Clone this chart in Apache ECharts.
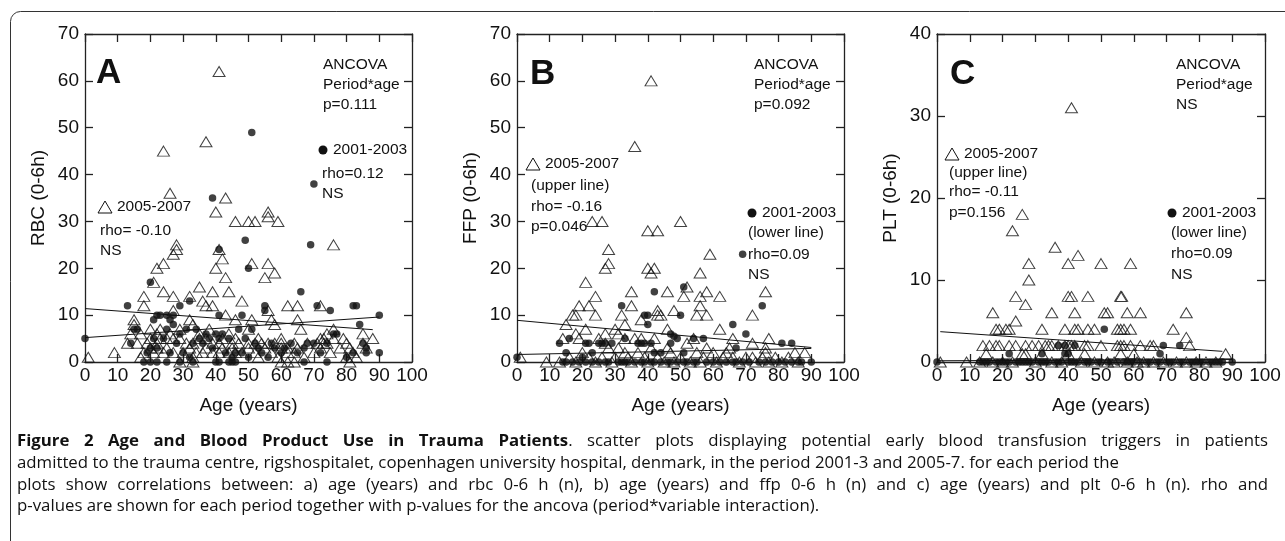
<!DOCTYPE html>
<html><head><meta charset="utf-8">
<script src="https://cdn.jsdelivr.net/npm/echarts@6/dist/echarts.min.js"></script>
<style>html,body{margin:0;padding:0;background:#fff;}#c{width:1285px;height:541px;}</style>
</head><body><div id="c"></div>
<script>
// ---------------- DATA ----------------
const panelLetters = ['A', 'B', 'C'];
const yNames = ['RBC (0-6h)', 'FFP (0-6h)', 'PLT (0-6h)'];
const xName = 'Age (years)';
const yMax = [70, 70, 40];
const xMax = 100;
const tickStep = 10;

// Panel A (RBC) – 2005-2007 (open triangles) and 2001-2003 (dots), [age, units]
const tri2005A = [
 [41,62],[24,45],[37,47],[26,36],[43,35],[40,32],[56,32],[56,31],[46,30],[50,30],[52,30],[59,30],
 [28,25],[28,24],[27,23],[76,25],[41,24],[42,22],[24,21],[22,20],[40,20],[51,21],[56,21],[58,19],[55,18],[43,18],[21,17],
 [35,16],[24,15],[39,15],[44,15],[18,14],[27,14],[32,14],[36,13],[48,13],[18,12],[37,12],[39,12],[62,12],[65,12],[72,12],[27,11],[56,11],[43,10],
 [15,9],[32,9],[46,9],[51,9],[57,9],[65,9],[15,8],[33,8],[58,8],[14,6],[23,7],[20,7],[29,7],[50,7],[66,7],[76,7],[85,6],[88,5],[17,6],[22,6],[26,6],[35,6],[38,7],[44,6],[60,5],[72,5],[74,6],
 [13,4],[16,4],[19,4],[20,5],[22,4],[23,5],[25,5],[27,5],[29,5],[31,4],[33,4],[35,5],[37,5],[39,4],[41,4],[42,5],[45,4],[46,5],[47,4],[50,4],[52,4],[53,5],[54,4],[56,4],[58,4],[60,4],[62,3],[64,4],[68,4],[71,4],[73,5],[74,4],[76,5],[79,5],[80,4],[85,4],
 [9,2],[17,1],[18,2],[20,3],[21,2],[22,3],[24,2],[25,3],[27,2],[30,2],[32,3],[33,1],[34,2],[36,2],[37,3],[39,2],[41,2],[42,3],[44,2],[45,3],[46,2],[48,2],[50,3],[52,2],[53,1],[55,3],[57,2],[59,1],[60,3],[62,2],[64,2],[65,3],[67,1],[70,2],[72,3],[73,4],[75,2],[78,3],[80,1],[81,3],[82,2],[83,1],[86,3],
 [1,1],[29,0],[33,0],[60,0],[62,0],[64,0],[81,0]
];
const dot2001A = [
 [51,49],[70,38],[39,35],[49,26],[69,25],[41,24],[50,20],[20,17],[66,15],[13,12],[29,12],[32,13],[55,12],[55,11],[71,12],[75,11],[82,12],[83,12],[90,10],[22,10],[23,10],[25,10],[27,10],[41,10],[48,10],[21,9],[26,9],[84,8],
 [0,5],[14,4],[15,7],[16,7],[19,2],[20,3],[21,5],[22,3],[24,5],[25,7],[26,2],[27,8],[28,4],[29,6],[30,2],[31,7],[32,1],[33,4],[34,7],[35,5],[36,4],[37,6],[38,5],[39,3],[40,6],[41,5],[42,6],[43,2],[44,5],[45,1],[46,2],[47,7],[48,2],[49,5],[50,1],[51,7],[52,4],[53,3],[54,2],[56,1],[57,4],[58,3],[60,2],[61,3],[63,4],[65,2],[67,3],[68,4],[70,4],[72,2],[74,4],[76,6],[77,6],[80,1],[82,2],[85,4],[86,3],[86,2],[90,2],
 [18,0],[20,0],[22,0],[25,0],[29,0],[33,0],[40,0],[41,0],[44,0],[45,0],[46,0],[67,0],[74,0]
];
const fit2005A = [[0,11.4],[88,6.9]];
const fit2001A = [[0,5.2],[90,9.6]];

// Panel B (FFP)
const tri2005B = [
 [41,60],[36,46],[23,30],[26,30],[50,30],[40,28],[43,28],[28,24],[28,21],[27,20],[59,23],[40,20],[42,20],[41,19],[56,19],[21,17],
 [35,15],[46,15],[52,16],[58,15],[76,15],[62,14],[51,14],[56,14],[24,14],[19,12],[22,12],[56,12],[35,12],[17,10],[18,10],[24,10],[32,10],[43,10],[44,10],[55,10],[58,10],[72,10],[43,11],[48,11],
 [38,9],[15,8],[33,8],[21,7],[46,7],[62,7],[30,7],[18,6],[27,6],[36,5],[38,5],[42,5],[54,5],[66,5],[77,5],[76,3],[72,4],[14,5],[19,5],[25,5],[33,5],[31,6],[27,4],[31,3],[33,2],[41,3],[46,3],[52,4],[58,3],[64,2],[76,2],[85,2],[88,2],
 [1,1],[9,0],[13,0],[16,1],[18,0],[20,2],[22,1],[24,0],[26,1],[28,3],[29,0],[30,1],[34,1],[35,0],[37,2],[39,1],[40,0],[43,1],[45,0],[47,2],[48,0],[50,1],[53,0],[55,2],[56,0],[57,1],[60,2],[61,0],[63,1],[65,3],[66,1],[68,0],[70,1],[72,1],[73,0],[75,1],[77,0],[79,1],[81,0],[83,1],[86,0]
];
const dot2001B = [
 [42,15],[51,16],[50,10],[32,12],[39,10],[40,10],[40,8],[66,8],[70,6],[75,12],[69,23],[47,6],[48,5.5],[49,5],[54,5],[57,5],[67,3],[81,4],[84,4],[90,0],[0,1],
 [13,4],[15,2],[16,5],[21,4],[22,4],[25,4],[26,4],[27,4],[29,4],[33,5],[37,4],[41,4],[42,2],[47,4],[51,2],[23,2],[20,1],[38,4],[39,4],[44,2],
 [14,0],[15,0],[17,0],[19,0],[21,0],[23,0],[25,0],[27,0],[28,0],[31,0],[32,0],[33,0],[34,0],[36,0],[38,0],[39,0],[41,0],[42,0],[44,0],[46,0],[47,0],[49,0],[51,0],[52,0],[54,0],[55,0],[58,0],[60,0],[62,0],[64,0],[66,0],[67,0],[69,0],[71,0],[74,0],[76,0],[78,0],[80,0],[82,0],[84,0],[86,0],[87,0]
];
const fit2005B = [[0,8.9],[90,3.1]];
const fit2001B = [[0,1.6],[90,2.9]];

// Panel C (PLT)
const tri2005C = [
 [41,31],[26,18],[23,16],[36,14],[28,12],[40,12],[43,13],[50,12],[59,12],[28,10],[24,8],[27,7],[40,8],[41,8],[46,8],[56,8],[56.3,8],
 [17,6],[35,6],[42,6],[51,6],[52,6],[58,6],[62,6],[76,6],[24,5],[76,3],
 [18,4],[19,4],[21,4],[22,4],[32,4],[39,4],[42,4],[43,4],[46,4],[48,4],[55,4],[56,4],[57,4],[59,4],[72,4],
 [14,2],[16,2],[18,2],[19,2],[22,2],[24,2],[27,2],[29,2],[31,2],[33,2],[34,2],[35,2],[37,2],[39,2],[40,2],[41,2],[42,2],[45,2],[46,2],[50,2],[55,2],[56,2],[57,2],[59,2],[62,2],[65,2],[66,2],[77,2],
 [15,1],[26,1],[27,1],[32,1],[40,1],[45,1],[56,1],[60,1],[88,1],
 [1,0],[9,0],[13,0],[17,0],[20,0],[23,0],[30,0],[35,0],[38,0],[44,0],[48,0],[52,0],[54,0],[58,0],[61,0],[63,0],[66,0],[69,0],[73,0],[76,0],[79,0],[82,0],[85,0]
];
const dot2001C = [
 [51,4],[37,2],[39,2],[42,2],[69,2],[74,2],[22,1],[32,1],[39,1],[40,1],[68,1],[0,0],[90,0],
 [13,0],[14,0],[15,0],[16,0],[18,0],[19,0],[20,0],[21,0],[22,0],[24,0],[25,0],[26,0],[27,0],[28,0],[29,0],[31,0],[32,0],[33,0],[34,0],[36,0],[37,0],[38,0],[40,0],[41,0],[42,0],[43,0],[45,0],[46,0],[47,0],[49,0],[50,0],[52,0],[53,0],[55,0],[57,0],[58,0],[59,0],[60,0],[62,0],[64,0],[65,0],[67,0],[68,0],[70,0],[71,0],[72,0],[74,0],[75,0],[77,0],[78,0],[79,0],[80,0],[81,0],[83,0],[84,0],[85,0],[86,0],[87,0]
];
const fit2005C = [[1,3.7],[87,1.3]];
const fit2001C = [[0,0.15],[90,0.3]];

// Annotation texts
const ancovaTexts = [['ANCOVA','Period*age','p=0.111'],['ANCOVA','Period*age','p=0.092'],['ANCOVA','Period*age','NS']];
const label2005 = '2005-2007';
const label2001 = '2001-2003';
const stats2005 = [['rho= -0.10','NS'],['(upper line)','rho= -0.16','p=0.046'],['(upper line)','rho= -0.11','p=0.156']];
const stats2001 = [['rho=0.12','NS'],['(lower line)','rho=0.09','NS'],['(lower line)','rho=0.09','NS']];

// Caption
const captionBold = 'Figure 2 Age and Blood Product Use in Trauma Patients';
const captionLines = [
 '. scatter plots displaying potential early blood transfusion triggers in patients',
 'admitted to the trauma centre, rigshospitalet, copenhagen university hospital, denmark, in the period 2001-3 and 2005-7. for each period the',
 'plots show correlations between: a) age (years) and rbc 0-6 h (n), b) age (years) and ffp 0-6 h (n) and c) age (years) and plt 0-6 h (n). rho and',
 'p-values are shown for each period together with p-values for the ancova (period*variable interaction).'
];

// ---------------- LAYOUT ----------------
const FONT = '"Liberation Sans", Arial, sans-serif';
const CAPFONT = '"Open Sans", "Noto Sans", sans-serif';
const INK = '#111';
const grids = [
 {left:85, top:34, width:327, height:328},
 {left:517, top:34, width:327, height:328},
 {left:937, top:34, width:328, height:328}
];
const axLine = {color:'#222', width:1.3};

const xAxes = [], yAxes = [], series = [];
const triSets = [tri2005A, tri2005B, tri2005C];
const dotSets = [dot2001A, dot2001B, dot2001C];
const fitUp = [fit2005A, fit2005B, fit2005C];
const fitLo = [fit2001A, fit2001B, fit2001C];

grids.forEach((g, i) => {
  xAxes.push({gridIndex:i, type:'value', min:0, max:xMax, interval:tickStep, position:'bottom',
    name:xName, nameLocation:'middle', nameGap:34,
    nameTextStyle:{fontSize:19, fontFamily:FONT, color:INK},
    axisLine:{show:true, onZero:false, lineStyle:axLine},
    axisTick:{show:true, inside:true, length:8, lineStyle:axLine},
    axisLabel:{fontSize:19, fontFamily:FONT, color:INK, margin:4},
    splitLine:{show:false}});
  xAxes.push({gridIndex:i, type:'value', min:0, max:xMax, interval:tickStep, position:'top',
    axisLine:{show:true, onZero:false, lineStyle:axLine},
    axisTick:{show:true, inside:true, length:8, lineStyle:axLine},
    axisLabel:{show:false}, splitLine:{show:false}});
  yAxes.push({gridIndex:i, type:'value', min:0, max:yMax[i], interval:tickStep, position:'left',
    name:yNames[i], nameLocation:'middle', nameGap:37,
    nameTextStyle:{fontSize:19, fontFamily:FONT, color:INK},
    axisLine:{show:true, onZero:false, lineStyle:axLine},
    axisTick:{show:true, inside:true, length:8, lineStyle:axLine},
    axisLabel:{fontSize:19, fontFamily:FONT, color:INK, margin:6},
    splitLine:{show:false}});
  yAxes.push({gridIndex:i, type:'value', min:0, max:yMax[i], interval:tickStep, position:'right',
    axisLine:{show:true, onZero:false, lineStyle:axLine},
    axisTick:{show:true, inside:true, length:8, lineStyle:axLine},
    axisLabel:{show:false}, splitLine:{show:false}});

  const xi = 2*i, yi = 2*i;
  series.push({type:'scatter', xAxisIndex:xi, yAxisIndex:yi, data:dotSets[i], symbol:'circle', symbolSize:7.5,
    itemStyle:{color:INK}, silent:true, z:3});
  series.push({type:'scatter', xAxisIndex:xi, yAxisIndex:yi, data:triSets[i], symbol:'triangle', symbolSize:[12,10],
    itemStyle:{color:'rgba(0,0,0,0)', borderColor:INK, borderWidth:1}, silent:true, z:4});
  [fitUp[i], fitLo[i]].forEach(d => series.push({type:'line', xAxisIndex:xi, yAxisIndex:yi, data:d,
    symbol:'none', lineStyle:{color:INK, width:1}, silent:true, z:5, animation:false}));
});

// graphic annotations
const graphic = [];
graphic.push({type:'rect', shape:{x:10.5, y:11.5, width:1400, height:700, r:10}, style:{fill:'none', stroke:'#333', lineWidth:1}, silent:true, z:-10});
function txt(x, y, s, size, bold, fam) {
  graphic.push({type:'text', silent:true, style:{x:x, y:y, text:s,
    font:(bold?'bold ':'') + size + 'px ' + (fam||FONT), fill:INK,
    align:'left', verticalAlign:'middle', textAlign:'left', textVerticalAlign:'middle'}});
}
function tri(cx, cy) {
  graphic.push({type:'polygon', silent:true, shape:{points:[[cx-7,cy+6],[cx+7,cy+6],[cx,cy-6]]}, style:{fill:'none', stroke:INK, lineWidth:1}});
}
function dot(cx, cy) {
  graphic.push({type:'circle', silent:true, shape:{cx:cx, cy:cy, r:4.5}, style:{fill:INK}});
}
const AS = 15.5;
const letterPos = [[96,73],[530,74],[950,74]];
panelLetters.forEach((L, i) => txt(letterPos[i][0], letterPos[i][1], L, 35, true));
const ancX = [323, 754, 1176];
ancovaTexts.forEach((lines, i) => lines.forEach((s, k) => txt(ancX[i], 65 + 20*k, s, AS)));
const leg05 = [ {tx:105, ty:207, sx:100, sy:[231,251]}, {tx:533, ty:164, sx:531, sy:[186,207,227]}, {tx:952, ty:154, sx:949, sy:[173,192,213]} ];
leg05.forEach((p, i) => { tri(p.tx, p.ty); txt(p.tx + 12, p.ty, label2005, AS); stats2005[i].forEach((s, k) => txt(p.sx, p.sy[k], s, AS)); });
const leg01 = [ {dx:323, dy:150, sx:322, sy:[174,194]}, {dx:752, dy:213, sx:748, sy:[233,255,275]}, {dx:1172, dy:213, sx:1171, sy:[233,254,275]} ];
leg01.forEach((p, i) => { dot(p.dx, p.dy); txt(p.dx + 10, p.dy, label2001, AS); stats2001[i].forEach((s, k) => txt(p.sx, p.sy[k], s, AS)); });

// caption with justified lines
const cv = document.createElement('canvas').getContext('2d');
function meas(s, size, bold) { cv.font = (bold?'bold ':'') + size + 'px ' + CAPFONT; return cv.measureText(s).width; }
const capLeft = 17, capRight = 1268;
// font size chosen so the (unjustified) second line ends near x = 1120
const capSize = 14 * (1120 - capLeft) / meas(captionLines[1], 14, false);
const capY = [441, 463, 485, 506];
function placeTokens(tokens, y, justify) {
  const widths = tokens.map(t => t.reduce((a, sg) => a + meas(sg[0], capSize, sg[1]), 0));
  const sum = widths.reduce((a, b) => a + b, 0);
  const spaceW = meas(' ', capSize, false);
  const gap = justify ? (capRight - capLeft - sum) / (tokens.length - 1) : spaceW;
  let x = capLeft;
  tokens.forEach((t, k) => {
    let xx = x;
    t.forEach(sg => { txt(xx, y, sg[0], capSize.toFixed(2), sg[1], CAPFONT); xx += meas(sg[0], capSize, sg[1]); });
    x += widths[k] + gap;
  });
}
const t1 = captionBold.split(' ').map(w => [[w, true]]);
const rest1 = captionLines[0].split(' ');
t1[t1.length - 1].push([rest1[0], false]);
rest1.slice(1).forEach(w => t1.push([[w, false]]));
placeTokens(t1, capY[0], true);
placeTokens(captionLines[1].split(' ').map(w => [[w, false]]), capY[1], false);
placeTokens(captionLines[2].split(' ').map(w => [[w, false]]), capY[2], true);
placeTokens(captionLines[3].split(' ').map(w => [[w, false]]), capY[3], false);

const chart = echarts.init(document.getElementById('c'), null, {renderer:'canvas'});
chart.setOption({
  animation:false,
  backgroundColor:'#fff',
  grid:grids.map(g => Object.assign({containLabel:false, show:false}, g)),
  xAxis:xAxes, yAxis:yAxes, series:series, graphic:graphic
});
</script></body></html>
